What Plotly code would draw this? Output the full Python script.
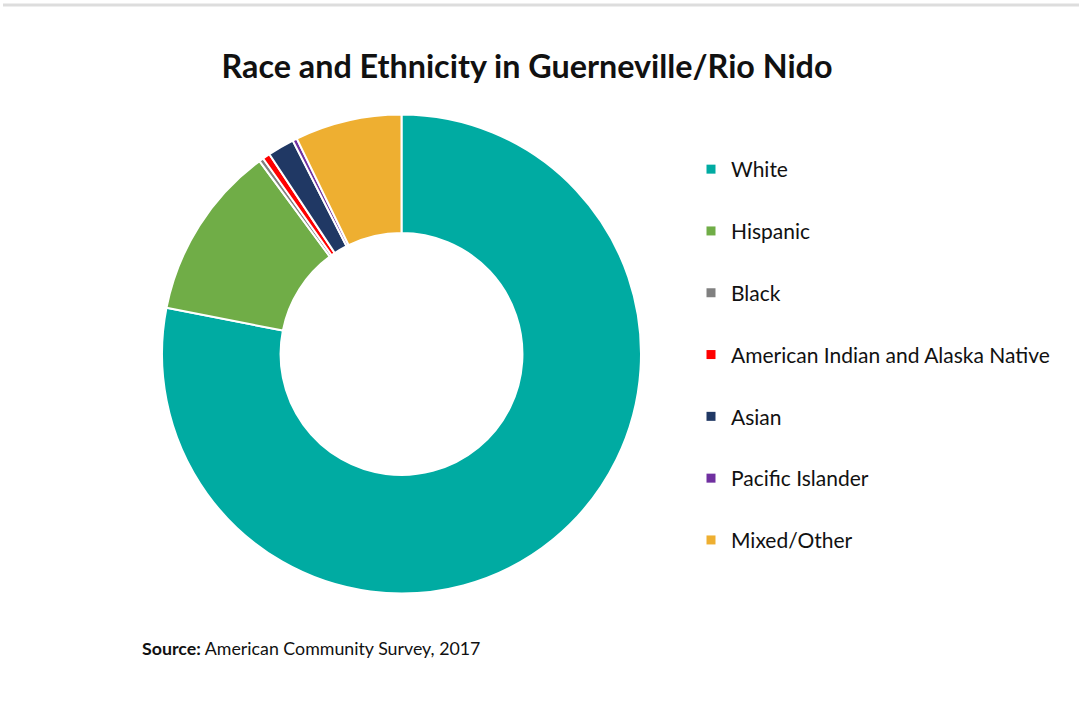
import plotly.graph_objects as go

categories = ["White", "Hispanic", "Black", "American Indian and Alaska Native",
              "Asian", "Pacific Islander", "Mixed/Other"]
shares = [78.1, 11.8, 0.3, 0.5, 1.8, 0.3, 7.2]
colors = ["#00ABA2", "#70AD47", "#808080", "#FF0000", "#203864", "#7030A0", "#EEAF31"]

W, H = 1079, 709
cx, cy, R = 401.5, 354, 239.5

fig = go.Figure()
fig.add_trace(go.Pie(
    labels=categories, values=shares, sort=False, direction="clockwise", rotation=0,
    hole=0.505, textinfo="none", showlegend=False,
    marker=dict(colors=colors, line=dict(color="white", width=2)),
    domain=dict(x=[(cx - R) / W, (cx + R) / W], y=[(H - cy - R) / H, (H - cy + R) / H]),
))
for i, (c, col) in enumerate(zip(categories, colors)):
    fig.add_trace(go.Scatter(
        x=[None], y=[None], mode="markers", name=c, legendgroup=f"g{i}",
        marker=dict(symbol="square", size=9, color=col), showlegend=True,
    ))

fig.update_layout(
    width=W, height=H, margin=dict(l=0, r=0, t=0, b=0),
    paper_bgcolor="white", plot_bgcolor="white",
    xaxis=dict(visible=False), yaxis=dict(visible=False),
    font=dict(family="Lato", color="#111"),
    title=dict(text="<b>Race and Ethnicity in Guerneville/Rio Nido</b>",
               x=527 / W, xanchor="center", y=1 - 66.5 / H, yanchor="middle",
               font=dict(size=32.3, family="Lato", color="#111")),
    legend=dict(x=691 / W, xanchor="left", y=1 - 149 / H, yanchor="top",
                font=dict(size=21, family="Lato", color="#111"),
                tracegroupgap=31.5, itemwidth=30, bgcolor="rgba(0,0,0,0)"),
    annotations=[dict(text="<b>Source:</b> American Community Survey, 2017",
                      x=140 / W, xanchor="left", y=1 - 648 / H, yanchor="middle",
                      xref="paper", yref="paper", showarrow=False,
                      font=dict(size=17.8, family="Lato", color="#111"))],
    shapes=[dict(type="line", xref="paper", yref="paper", x0=3 / W, x1=1,
                 y0=1 - 5 / H, y1=1 - 5 / H, line=dict(color="#DDDDDD", width=3))],
)
fig.write_html("out.html", config={"displayModeBar": False},
               post_script="document.body.style.margin='0';")
